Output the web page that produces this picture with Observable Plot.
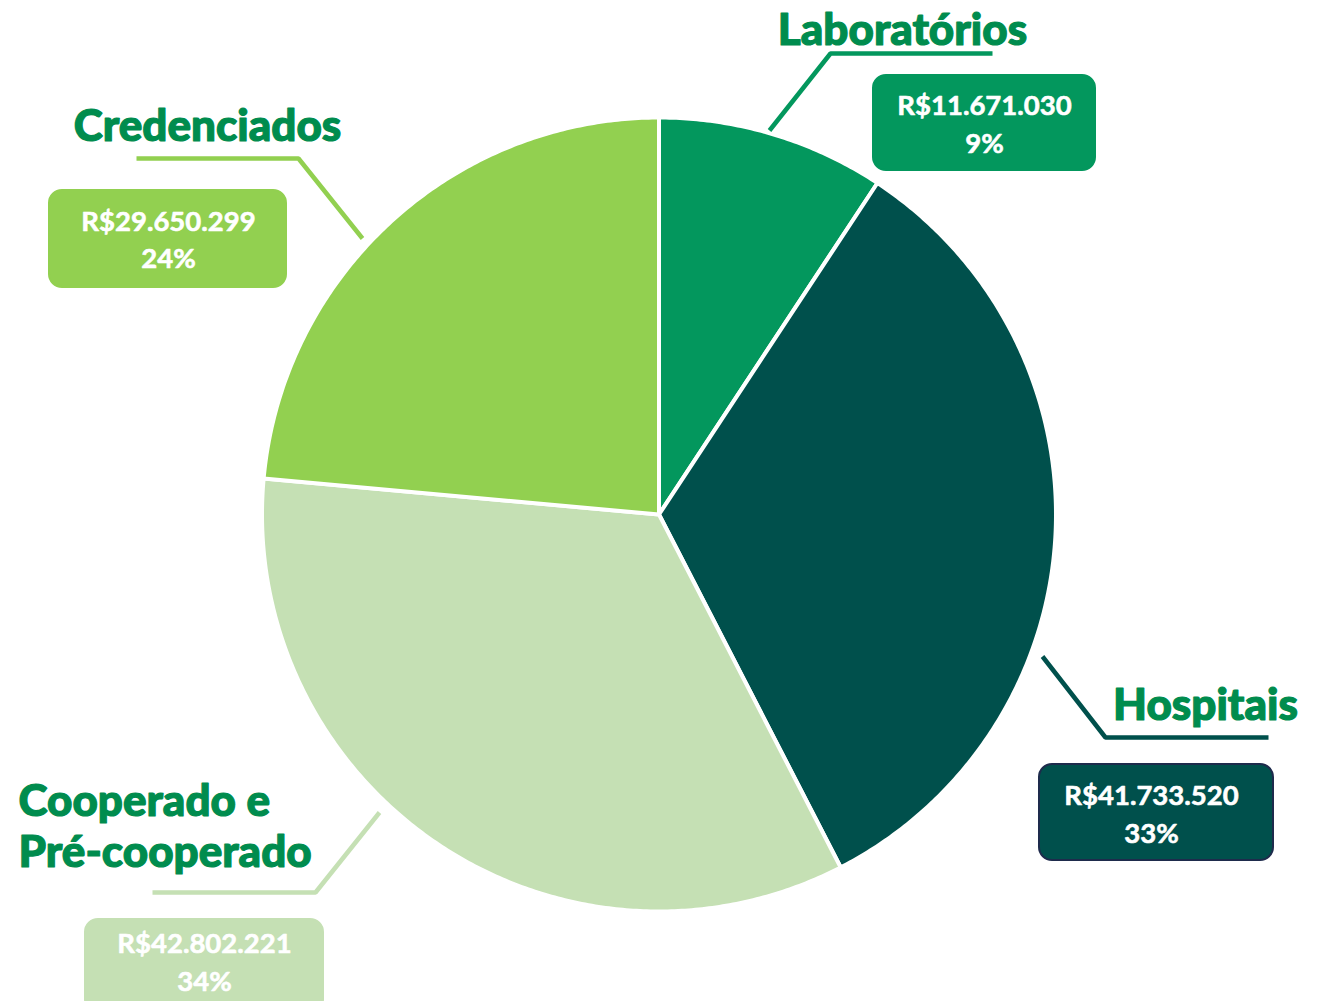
<!DOCTYPE html>
<html>
<head>
<meta charset="utf-8">
<script src="https://cdn.jsdelivr.net/npm/d3@7"></script>
<script src="https://cdn.jsdelivr.net/npm/@observablehq/plot@0.6"></script>
<style>
  html, body { margin: 0; padding: 0; background: #ffffff; }
  #chart { width: 1327px; height: 1001px; overflow: hidden; }
</style>
</head>
<body>
<div id="chart"></div>
<script>
// ---- Data (clockwise from 12 o'clock) ----
const categories = ["Laboratórios", "Hospitais", "Cooperado e\nPré-cooperado", "Credenciados"];
const values = [11671030, 41733520, 42802221, 29650299];

// ---- Styles ----
const sliceColors = ["#03975d", "#00504c", "#c5e0b4", "#92d050"];
const labelColor = "#008c4e";
const FONT = "Lato, 'Open Sans', sans-serif";

// ---- Layout (pixel positions of pie, labels, leader lines and boxes) ----
const W = 1327, H = 1001;
const pieCenter = [658.5, 514];
const pieRadius = 397;
const titlePos = [
  {x: 902, y: 28, anchor: "middle"},
  {x: 1205, y: 703, anchor: "middle"},
  {x: 18, y: 825, anchor: "start"},
  {x: 207, y: 124, anchor: "middle"}
];
const leaderPaths = [
  [[769, 130], [830, 53], [992, 53]],
  [[1042, 656], [1105, 737], [1268, 737]],
  [[379, 812], [315, 892], [152, 892]],
  [[362, 238], [298, 158], [136, 158]]
];
const boxPos = [
  {x1: 873, x2: 1095, y1: 75, y2: 170, tx: 984, ty: 121.5},
  {x1: 1039, x2: 1273, y1: 764, y2: 860, tx: 1151, ty: 811.5},
  {x1: 85, x2: 323, y1: 919, y2: 1012, tx: 204, ty: 959.5},
  {x1: 49, x2: 286, y1: 190, y2: 287, tx: 168, ty: 237}
];
const boxStroke = [null, "#1e2b4c", null, null];

// ---- Derived ----
const total = d3.sum(values);
const ptBR = d3.formatLocale({decimal: ",", thousands: ".", grouping: [3], currency: ["R$", ""]});
const fmtMoney = ptBR.format(",d");
const arcs = d3.pie().sort(null).value(d => d)(values);

const slicePts = [];
arcs.forEach((a, i) => {
  const pts = [[...pieCenter]];
  const n = Math.max(2, Math.ceil((a.endAngle - a.startAngle) / (Math.PI / 360)));
  for (let k = 0; k <= n; k++) {
    const t = a.startAngle + (a.endAngle - a.startAngle) * k / n;
    pts.push([pieCenter[0] + pieRadius * Math.sin(t), pieCenter[1] - pieRadius * Math.cos(t)]);
  }
  pts.push([...pieCenter]);
  pts.forEach(p => slicePts.push({i, x: p[0], y: p[1]}));
});

const leaderPts = [];
leaderPaths.forEach((path, i) => path.forEach(p => leaderPts.push({i, x: p[0], y: p[1]})));

const titles = categories.map((c, i) => ({i, text: c, ...titlePos[i]}));
const boxes = values.map((v, i) => ({
  i, ...boxPos[i],
  stroke: boxStroke[i] || sliceColors[i],
  text: "R$" + fmtMoney(v) + "\n" + Math.round(v / total * 100) + "%"
}));

const chart = Plot.plot({
  width: W,
  height: H,
  margin: 0,
  x: {domain: [0, W], range: [0, W], axis: null},
  y: {domain: [0, H], range: [0, H], axis: null},
  style: {fontFamily: FONT, background: "#ffffff"},
  marks: [
    Plot.line(slicePts, {
      x: "x", y: "y", z: "i",
      fill: d => sliceColors[d.i],
      stroke: "#ffffff", strokeWidth: 4, strokeLinejoin: "round", curve: "linear"
    }),
    Plot.line(leaderPts, {
      x: "x", y: "y", z: "i",
      stroke: d => sliceColors[d.i], strokeWidth: 4.5, strokeLinejoin: "miter", strokeLinecap: "butt"
    }),
    Plot.rect(boxes, {
      x1: "x1", x2: "x2", y1: "y1", y2: "y2",
      fill: d => sliceColors[d.i], stroke: d => d.stroke, strokeWidth: 2, rx: 13
    }),
    Plot.text(boxes, {
      x: "tx", y: "ty", text: "text",
      fill: "#ffffff", stroke: "#ffffff", strokeWidth: 0.6,
      fontSize: 27.5, fontWeight: "bold", lineHeight: 1.36, textAnchor: "middle"
    }),
    ...["middle", "start"].map(anchor => Plot.text(titles.filter(d => d.anchor === anchor), {
      x: "x", y: "y", text: "text",
      fill: labelColor, stroke: labelColor, strokeWidth: 1.2,
      fontSize: 44, fontWeight: 900, lineHeight: 1.14,
      textAnchor: anchor
    }))
  ]
});

document.getElementById("chart").appendChild(chart);
</script>
</body>
</html>
